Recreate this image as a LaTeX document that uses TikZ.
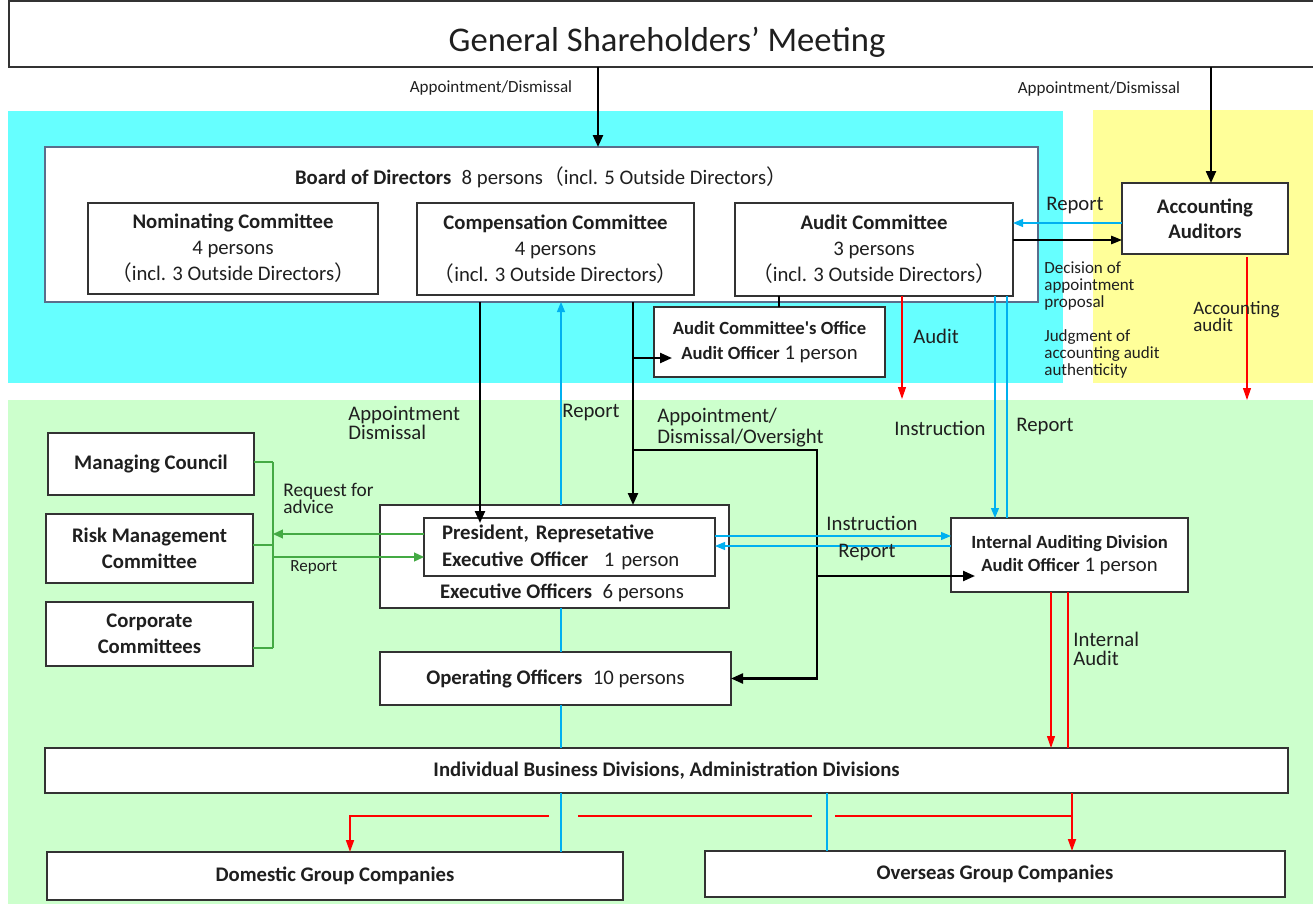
\documentclass[tikz,border=0pt]{standalone}
\usepackage{fontspec}
\setmainfont{Carlito}
\newfontfamily\cjk{Noto Sans CJK JP}
\usetikzlibrary{arrows.meta,positioning}
\definecolor{cyanbg}{HTML}{66FFFF}
\definecolor{yellowbg}{HTML}{FFFF99}
\definecolor{greenbg}{HTML}{CCFFCC}
\definecolor{lineblue}{HTML}{00B0F0}
\definecolor{linegreen}{HTML}{44AA44}
\definecolor{linered}{HTML}{FF0000}
\definecolor{boardline}{HTML}{5A6E8C}
\newcommand{\fwl}{{\cjk （}}
\newcommand{\fwr}{{\cjk ）}}
\newcommand{\cbf}[1]{{\fontsize{10.6}{13}\selectfont\bfseries #1}}
\tikzstyle{box}=[draw=black!80, line width=0.75pt, fill=white, inner sep=0pt,
  outer sep=0pt, align=center]
\tikzset{wh/.style 2 args={minimum width=#1*0.02cm, minimum height=#2*0.02cm}}
\tikzstyle{lbl}=[inner sep=0pt, align=left, font=\fontsize{11.8}{11.3}\selectfont]
\tikzstyle{small}=[inner sep=0pt, align=left, font=\fontsize{9.7}{9.6}\selectfont]
\tikzstyle{appt}=[line width=1.3pt, -{Triangle[length=0.24cm, width=0.2cm]}]
\tikzstyle{order}=[line width=0.75pt, -{Triangle[length=0.22cm, width=0.17cm]}]
\tikzstyle{report}=[lineblue, line width=0.65pt, -{Triangle[length=0.2cm, width=0.16cm]}]
\tikzstyle{blueline}=[lineblue, line width=0.65pt]
\tikzstyle{audit}=[linered, line width=0.65pt, -{Triangle[length=0.24cm, width=0.16cm]}]
\tikzstyle{redline}=[linered, line width=0.65pt]
\tikzstyle{advice}=[linegreen, line width=0.7pt, -{Triangle[length=0.2cm, width=0.18cm]}]
\tikzstyle{greenline}=[linegreen, line width=0.7pt]

\begin{document}
\begin{tikzpicture}[x=0.02cm, y=-0.02cm, text=black!88,
    font=\fontsize{11.8}{14.7}\selectfont]
  \useasboundingbox (0,0) rectangle (1313,906);
  % areas
  \fill[cyanbg]   (8,111) rectangle (1063,383);
  \fill[yellowbg] (1093,110) rectangle (1313,383);
  \fill[greenbg]  (8,400) rectangle (1313,904);

  % columns and rows of the connectors
  \coordinate (colShare) at (598,0);
  \coordinate (colAcc) at (1211,0);
  \coordinate (rowRepAcc) at (0,223);
  \coordinate (rowDecAcc) at (0,240);
  \coordinate (colOffice) at (779,0);
  \coordinate (colAudit) at (902,0);
  \coordinate (colAccAudit) at (1247,0);
  \coordinate (colInstr) at (995,0);
  \coordinate (colRepIA) at (1007,0);
  \coordinate (colAppt) at (480,0);
  \coordinate (colRep) at (561,0);
  \coordinate (colOvs) at (633,0);
  \coordinate (colOvsR) at (817,0);
  \coordinate (rowOffice) at (0,358);
  \coordinate (rowOvs) at (0,450);
  \coordinate (rowIA) at (0,576);
  \coordinate (colGreen) at (273,0);
  \coordinate (rowMC) at (0,462);
  \coordinate (rowRMC) at (0,545);
  \coordinate (rowCC) at (0,648);
  \coordinate (rowReq) at (0,534);
  \coordinate (rowRepG) at (0,557);
  \coordinate (rowInstr) at (0,536);
  \coordinate (rowRepP) at (0,546);
  \coordinate (colIntA) at (1051,0);
  \coordinate (colIntB) at (1068,0);
  \coordinate (colOvsB) at (827,0);
  \coordinate (auditEnd) at (902,399);
  \coordinate (accEnd) at (1247,400);
  \coordinate (grpR) at (1072,816);
  \coordinate (grpL) at (350,816);

  % boxes
  \node[box, wh={1309}{66}] (gsm) at (663.5,34) {};
  \node[font=\fontsize{19.7}{24}\selectfont] (gsmtitle) at (667,42)
    {General Shareholders’ Meeting};
  \node[box, draw=boardline, wh={993}{155}] (board) at (541.5,224.5) {};
  \node (boardtitle) at (541,177)
    {\textbf{Board of Directors}\enspace 8 persons\fwl incl. 5 Outside Directors\fwr};
  \node[box, wh={290}{91}] (nom) at (233,248.5)
    {\textbf{Nominating Committee}\\4 persons\\\fwl incl. 3 Outside Directors\fwr};
  \node[box, wh={277}{92}] (comp) at (555.5,249)
    {\textbf{Compensation Committee}\\4 persons\\\fwl incl. 3 Outside Directors\fwr};
  \node[box, wh={278}{93}] (audit) at (874,249.5)
    {\textbf{Audit Committee}\\3 persons\\\fwl incl. 3 Outside Directors\fwr};
  \node[box, wh={231}{70}, font=\fontsize{11.8}{14.2}\selectfont] (office) at (769.5,342)
    {\cbf{Audit Committee\textquotesingle s Office}\\\cbf{Audit Officer} 1 person};
  \node[box, wh={166}{71}, font=\fontsize{11.8}{14.2}\selectfont] (acc) at (1205,218.5)
    {\textbf{Accounting}\\\textbf{Auditors}};

  \node[box, wh={206}{62}] (mc) at (151,464) {\textbf{Managing Council}};
  \node[box, wh={207}{69}] (rmc) at (149.5,548.5)
    {\textbf{Risk Management}\\\textbf{Committee}};
  \node[box, wh={207}{64}] (cc) at (149.5,634)
    {\textbf{Corporate}\\\textbf{Committees}};

  \node[box, wh={349}{103}] (exec) at (554.5,556.5) {};
  \node[box, wh={291}{58}, text width=255*0.02cm, inner xsep=18*0.02cm, align=left,
    font=\fontsize{11.8}{15.3}\selectfont] (pres) at (569.5,547)
    {\textbf{President, Represetative}\\\textbf{Executive Officer}\hspace{0.75em}1 person};
  \node (execlabel) at (562,593) {\textbf{Executive Officers}\enspace 6 persons};
  \node[box, wh={351}{53}] (oper) at (555.5,678.5)
    {\textbf{Operating Officers}\enspace 10 persons};
  \node[box, wh={237}{74}, font=\fontsize{11.8}{13}\selectfont] (ida) at (1069.5,555)
    {\cbf{Internal Auditing Division}\\\cbf{Audit Officer} 1 person};

  \node[box, wh={1243}{45}] (ibd) at (666.5,770.5)
    {\textbf{Individual Business Divisions, Administration Divisions}};
  \node[box, wh={576}{48}] (dom) at (335,876) {\textbf{Domestic Group Companies}};
  \node[box, wh={580}{46}] (ovs) at (995,874) {\textbf{Overseas Group Companies}};

  % shareholders
  \draw[appt] (gsm.south -| colShare) -- (board.north -| colShare);
  \draw[appt] (gsm.south -| colAcc) -- (acc.north -| colAcc);
  \node[small] (apdA) at (491,88) {Appointment/Dismissal};
  \node[small] (apdB) at (1099,89) {Appointment/Dismissal};

  % audit committee and accounting auditors
  \draw[report] (acc.west |- rowRepAcc) -- (audit.east |- rowRepAcc);
  \draw[order] (audit.east |- rowDecAcc) -- (acc.west |- rowDecAcc);
  \node[lbl, anchor=west] (repAcc) at (1046,206) {Report};
  \node[small, anchor=west] (decision) at (1044,286) {Decision of\\appointment\\proposal};
  \node[small, anchor=west] (judgment) at (1044,354)
    {Judgment of\\accounting audit\\authenticity};
  \draw[audit, shorten <=0.06cm] (acc.south -| colAccAudit) -- (accEnd);
  \node[lbl, anchor=west, font=\fontsize{10.8}{9.8}\selectfont] (accAuditLbl)
    at (1193,316.5) {Accounting\\audit};
  \draw[line width=0.75pt] (audit.south -| colOffice) -- (office.north -| colOffice);
  \draw[audit] (audit.south -| colAudit) -- (auditEnd);
  \node[lbl, anchor=west] (auditLbl) at (913,336) {Audit};
  \draw[report] (audit.south -| colInstr) -- (ida.north -| colInstr);
  \draw[blueline] (ida.north -| colRepIA) -- (audit.south -| colRepIA);
  \node[lbl] (instrA) at (940,428) {Instruction};
  \node[lbl] (repA) at (1045,427) {Report};

  % board and executive officers
  \draw[appt, shorten >=-0.1cm] (board.south -| colAppt) -- (pres.north -| colAppt);
  \node[lbl, anchor=west] (apptLbl) at (348,423) {Appointment\\Dismissal};
  \draw[report] (exec.north -| colRep) -- (board.south -| colRep);
  \node[lbl, anchor=west] (repB) at (562,413) {Report};
  \foreach \a/\b in {exec/oper, oper/ibd, ibd/dom}
    \draw[blueline] (\a.south -| colRep) -- (\b.north -| colRep);
  \draw[blueline] (ibd.south -| colOvsB) -- (ovs.north -| colOvsB);

  \draw[appt] (board.south -| colOvs) -- (exec.north -| colOvs);
  \draw[appt, shorten >=-0.36cm] (colOvs |- rowOffice) -- (office.west |- rowOffice);
  \draw[appt] (colOvs |- rowOvs) -| (colOvsR |- oper.east) -- (oper.east);
  \draw[appt, shorten >=-0.48cm] (colOvsR |- rowIA) -- (ida.west |- rowIA);
  \node[lbl, anchor=west, font=\fontsize{11.8}{11.9}\selectfont] (ovsLbl) at (657,427.5)
    {Appointment/\\Dismissal/Oversight};

  % councils and committees
  \foreach \b/\r in {mc/rowMC, rmc/rowRMC, cc/rowCC}
    \draw[greenline] (\b.east |- \r) -- (colGreen |- \r);
  \draw[greenline] (colGreen |- rowMC) -- (colGreen |- rowCC);
  \draw[advice] (pres.west |- rowReq) -- (colGreen |- rowReq);
  \draw[advice] (colGreen |- rowRepG) -- (pres.west |- rowRepG);
  \node[lbl, anchor=west, font=\fontsize{11}{10}\selectfont] (reqLbl) at (283,498.5)
    {Request for\\advice};
  \node[small, anchor=west] (repG) at (290,567) {Report};

  % internal auditing division
  \draw[report] (pres.east |- rowInstr) -- (ida.west |- rowInstr);
  \draw[report] (ida.west |- rowRepP) -- (pres.east |- rowRepP);
  \node[lbl] (instrB) at (872,523) {Instruction};
  \node[lbl] (repC) at (867,553) {Report};
  \draw[audit] (ida.south -| colIntA) -- (ibd.north -| colIntA);
  \draw[redline] (ida.south -| colIntB) -- (ibd.north -| colIntB);
  \node[lbl, anchor=west, font=\fontsize{11.8}{11.2}\selectfont] (intLbl) at (1073,649)
    {Internal\\Audit};

  % group companies
  \draw[redline, line width=1pt, shorten <=0.1cm] (ibd.south -| grpR) -- (grpR) -- (835,816)
    (817,816) -- (578,816);
  \draw[audit, line width=1pt] (549,816) -- (grpL) -- (dom.north -| grpL);
  \draw[audit, line width=1pt] (grpR) -- (ovs.north -| grpR);
\end{tikzpicture}
\end{document}
